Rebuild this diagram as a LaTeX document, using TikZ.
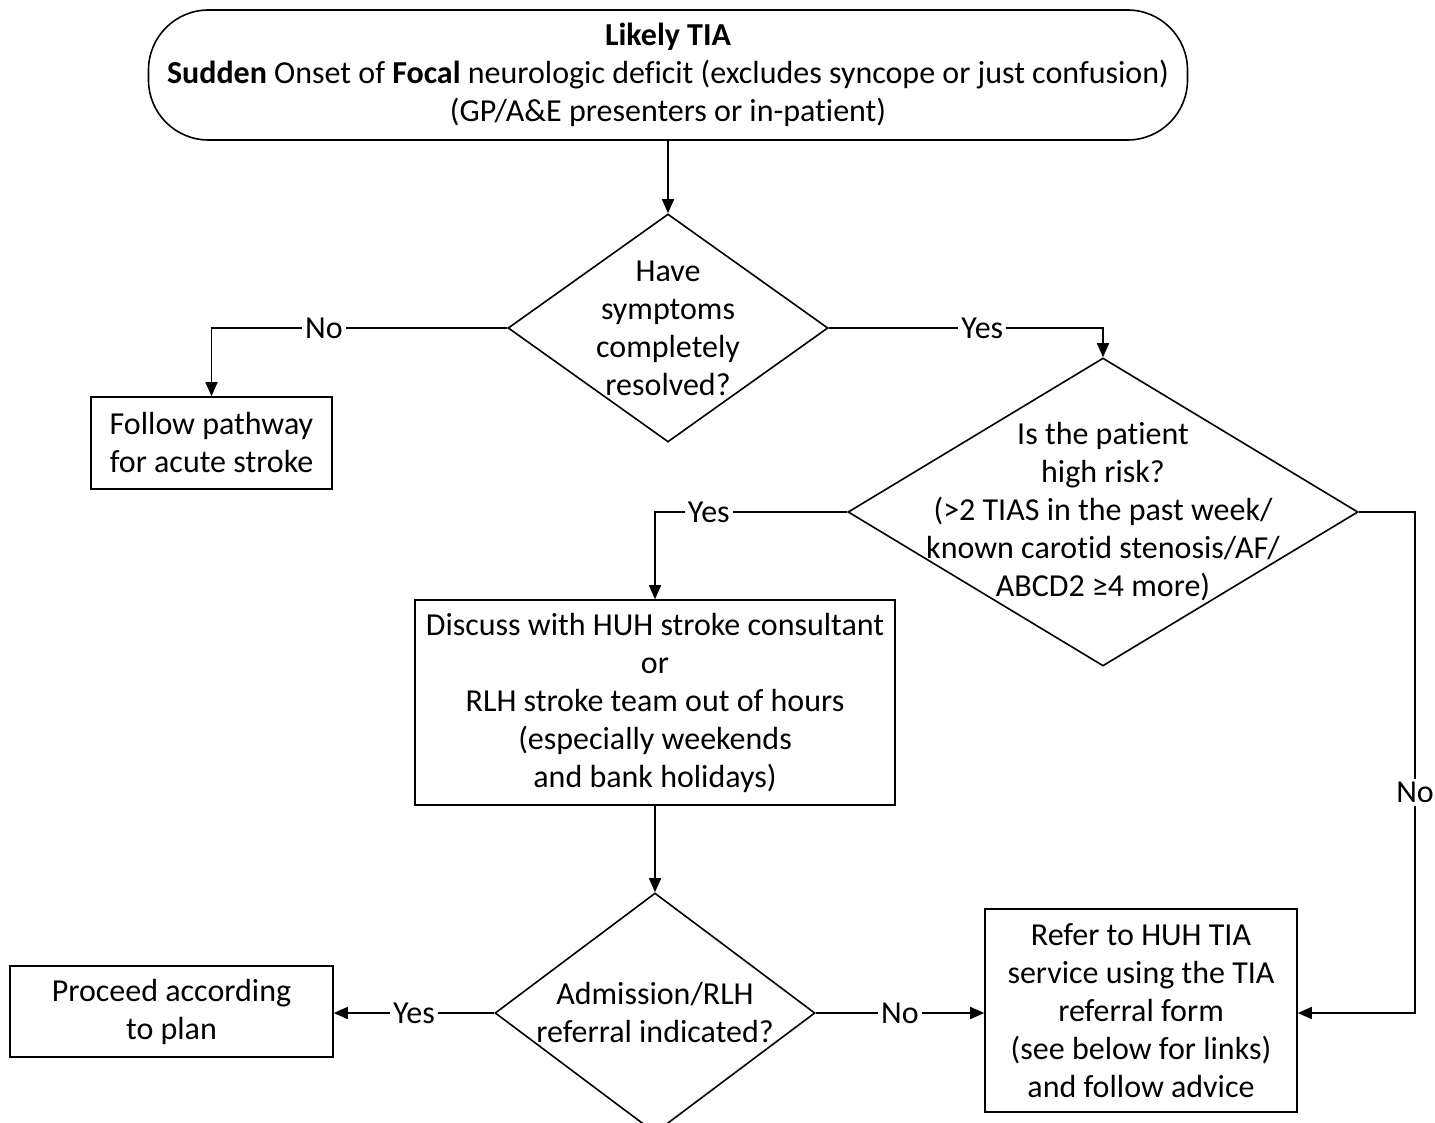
\documentclass[tikz,border=0pt]{standalone}
\usepackage{fontspec}
\setmainfont{Carlito}[Ligatures=NoCommon]
\usetikzlibrary{positioning,shapes.geometric,arrows.meta}

\begin{document}
\begin{tikzpicture}[
x=0.5pt, y=-0.5pt,
line width=0.8pt,
every node/.style={font=\fontsize{16}{19}\selectfont},
startbox/.style={
  draw,
  rectangle,
  rounded corners=30pt,
  align=center,
  inner sep=0pt},
process/.style={
  draw,
  rectangle,
  align=center,
  inner sep=0pt},
decision/.style={
  draw,
  diamond,
  inner sep=0pt},
intext/.style={align=center, inner sep=0pt},
lbl/.style={fill=white, inner sep=1.5pt},
conn/.style={-{Triangle[length=7pt,width=6pt]}}
]
\useasboundingbox (0,0) rectangle (1435,1123);
\clip (0,0) rectangle (1435,1123);

\node[startbox, minimum width=519.5pt, minimum height=65pt] (start) at (668,75)
  {\textbf{Likely TIA}\\\textbf{Sudden} Onset of \textbf{Focal} neurologic deficit (excludes syncope or just confusion)\\(GP/A\&E presenters or in-patient)};
\node[decision, minimum width=160pt, minimum height=114pt,
  label={[intext]center:{Have\\symptoms\\completely\\resolved?}}] (symptoms) at (668,328) {};
\node[process, minimum width=120.5pt, minimum height=46pt] (acute) at (211.5,443)
  {Follow pathway\\for acute stroke};
\node[decision, minimum width=255pt, minimum height=154pt,
  label={[intext]center:{Is the patient\\high risk?\\(>2 TIAS in the past week/\\known carotid stenosis/AF/\\ABCD2 ≥4 more)}}] (risk) at (1103,512) {};
\node[process, minimum width=240pt, minimum height=102.5pt] (discuss) at (655,702.5)
  {Discuss with HUH stroke consultant\\or\\RLH stroke team out of hours\\(especially weekends\\and bank holidays)};
\node[decision, minimum width=160pt, minimum height=120pt,
  label={[intext]center:{Admission/RLH\\referral indicated?}}] (admit) at (655,1013) {};
\node[process, minimum width=161.5pt, minimum height=45.5pt] (plan) at (171.5,1011.5)
  {Proceed according\\to plan};
\node[process, minimum width=156pt, minimum height=101.5pt] (refer) at (1141,1010.5)
  {Refer to HUH TIA\\service using the TIA\\referral form\\(see below for links)\\and follow advice};

\draw[conn] (start.south) -- (symptoms.north);
\draw[conn] (symptoms.west) -| node[lbl, pos=0.31] {No} (acute.north);
\draw[conn] (symptoms.east) -| node[lbl, pos=0.28] {Yes} (risk.north);
\draw[conn] (risk.west) -| node[lbl, pos=0.36] {Yes} (discuss.north);
\draw[conn] (discuss.south) -- (admit.north);
\draw[conn] (admit.west) -- node[lbl] {Yes} (admit.west -| plan.east);
\draw[conn] (admit.east) -- node[lbl] {No} (admit.east -| refer.west);
\coordinate (nobend) at (1415,512);
\draw[conn] (risk.east) -- (nobend) -- node[lbl, pos=0.56] {No} (nobend |- admit.east)
  -- (admit.east -| refer.east);
\end{tikzpicture}
\end{document}
